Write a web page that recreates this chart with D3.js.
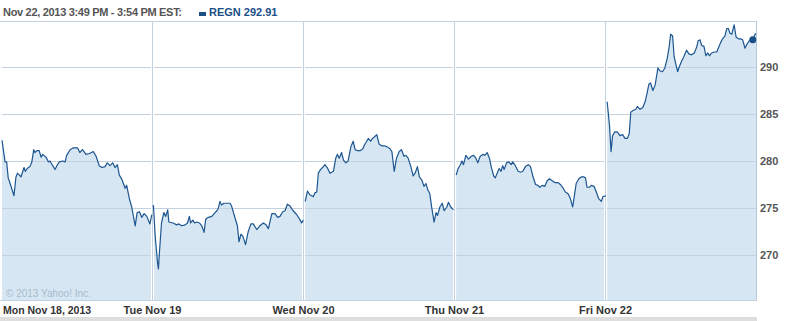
<!DOCTYPE html>
<html lang="en">
<head>
<meta charset="UTF-8"/>
<title>REGN intraday</title>
<script src="https://d3js.org/d3.v7.min.js"></script>
<style>
  body { margin: 0; background: #fff; }
  text { font-family: "Liberation Sans", Arial, sans-serif; }
</style>
</head>
<body>
<script>

var w = 794;
var h = 321;

// header / labels
var headerLabel = "Nov 22, 2013 3:49 PM - 3:54 PM EST:";
var seriesName = "REGN";
var lastPrice = 292.91;
var lastMinute = 379;   // 3:49 PM on Fri (minutes after 9:30)

var dayLabels = ["Mon Nov 18, 2013", "Tue Nov 19", "Wed Nov 20", "Thu Nov 21", "Fri Nov 22"];
var yTicks = [270, 275, 280, 285, 290];

// minutes after 9:30 open, and price, for each session
var monMin = [0, 8, 12, 16, 21, 31, 36, 40, 45, 49, 57, 60, 65, 72, 77, 82, 85, 90, 96, 101,
              105, 114, 120, 124, 128, 137, 143, 148, 157, 163, 167, 176, 184, 195, 201, 208, 217, 226, 236, 243,
              251, 258, 266, 272, 279, 286, 292, 298, 303, 309, 318, 322, 329, 335, 344, 349, 355, 361, 367, 374,
              382, 387];
var monPx  = [282.2, 279.9, 279.9, 278.2, 277.6, 276.3, 278.3, 278.7, 278.5, 278.3, 279.3, 278.9, 279.2, 279.4, 279.9, 281.2, 280.9, 281.1, 281.1, 280.4,
              280.7, 280.4, 279.9, 280.0, 279.7, 279.1, 279.6, 279.9, 280.0, 279.9, 280.6, 281.2, 281.4, 281.4, 280.9, 281.2, 280.7, 280.8, 281.0, 280.5,
              279.5, 279.3, 279.4, 279.8, 279.5, 279.8, 279.3, 279.6, 278.5, 278.1, 277.1, 277.4, 276.0, 275.1, 273.1, 274.5, 274.6, 274.0, 274.4, 274.1,
              273.3, 274.3];

var tueMin = [1, 6, 12, 14, 17, 22, 28, 33, 38, 41, 52, 61, 67, 74, 83, 89, 94, 97, 103, 107,
              113, 120, 126, 132, 136, 143, 152, 158, 165, 169, 173, 177, 183, 192, 199, 203, 212, 218, 222, 227,
              232, 239, 246, 253, 259, 268, 276, 285, 292, 298, 307, 315, 322, 328, 335, 341, 347, 354, 362, 371,
              380, 384, 388];
var tuePx  = [275.3, 271.8, 269.1, 268.5, 270.5, 273.4, 274.5, 274.1, 274.8, 273.5, 273.4, 273.2, 273.3, 273.1, 273.2, 273.4, 274.1, 273.4, 273.7, 273.4,
              273.5, 273.4, 273.1, 272.4, 273.8, 274.0, 274.1, 274.4, 274.7, 275.0, 275.7, 275.3, 275.5, 275.5, 275.5, 275.2, 273.9, 273.1, 271.4, 272.2,
              272.0, 271.1, 272.5, 273.3, 273.3, 272.7, 273.1, 273.4, 273.2, 272.8, 274.4, 274.4, 274.0, 274.1, 274.6, 274.7, 275.4, 275.2, 274.7, 274.3,
              273.7, 273.4, 273.7];

var wedMin = [3, 9, 15, 24, 28, 33, 37, 43, 48, 54, 60, 67, 76, 82, 86, 91, 97, 102, 108, 114,
              121, 127, 132, 138, 145, 152, 156, 162, 166, 172, 177, 183, 188, 194, 201, 209, 215, 222, 227, 233,
              239, 246, 252, 258, 263, 269, 276, 282, 287, 293, 298, 304, 310, 315, 320, 325, 330, 336, 341, 345,
              351, 357, 362, 369, 373, 379, 386];
var wedPx  = [275.7, 276.8, 276.4, 276.2, 276.6, 276.7, 278.7, 279.1, 279.3, 279.6, 279.3, 278.7, 278.9, 280.3, 280.7, 280.3, 280.9, 280.1, 279.8, 280.0,
              281.5, 282.1, 281.2, 281.1, 281.1, 281.3, 281.7, 282.1, 282.4, 282.1, 282.4, 282.6, 282.8, 281.8, 281.6, 281.6, 281.5, 281.3, 281.0, 278.9,
              280.3, 281.0, 281.2, 280.5, 280.6, 280.3, 279.4, 278.4, 278.7, 279.4, 278.3, 278.0, 277.3, 277.6, 276.9, 276.5, 275.0, 273.5, 274.5, 274.2,
              275.1, 275.5, 274.7, 275.1, 275.6, 275.1, 274.8];

var thuMin = [3, 8, 14, 18, 22, 28, 35, 42, 48, 54, 59, 65, 72, 77, 83, 89, 94, 100, 104, 110,
              114, 119, 123, 127, 133, 139, 145, 149, 156, 163, 169, 175, 182, 189, 195, 201, 208, 214, 219, 225,
              232, 238, 244, 251, 258, 266, 272, 278, 285, 292, 298, 304, 309, 313, 320, 326, 333, 337, 341, 347,
              352, 359, 364, 371, 378, 382, 390];
var thuPx  = [278.5, 279.2, 279.6, 280.0, 279.6, 280.6, 280.2, 280.5, 280.6, 280.3, 279.8, 280.5, 280.7, 280.6, 280.9, 280.3, 279.3, 278.4, 278.2, 278.8,
              279.2, 278.9, 279.5, 279.1, 279.8, 279.9, 279.6, 279.9, 279.5, 278.9, 278.8, 278.9, 279.4, 279.6, 279.4, 278.4, 277.5, 277.4, 277.2, 277.4,
              277.3, 277.9, 278.1, 277.9, 277.7, 277.7, 277.5, 277.2, 276.7, 276.5, 276.0, 275.1, 276.5, 277.6, 278.1, 278.3, 278.3, 278.2, 277.2, 277.2,
              277.4, 277.3, 276.8, 276.0, 275.7, 276.2, 276.3];

var friMin = [3, 9, 13, 17, 23, 29, 36, 43, 49, 55, 60, 64, 71, 77, 81, 88, 95, 101, 105, 111,
              115, 121, 127, 134, 139, 146, 152, 158, 163, 167, 172, 176, 181, 185, 189, 196, 201, 208, 214, 221,
              228, 234, 238, 243, 247, 253, 258, 263, 267, 273, 279, 286, 291, 296, 301, 307, 312, 316, 320, 325,
              331, 336, 342, 348, 353, 359, 365, 370, 379, 385, 390];
var friPx  = [286.3, 283.8, 281.0, 282.7, 283.1, 283.1, 282.7, 282.8, 282.4, 282.4, 282.9, 285.2, 285.4, 285.5, 285.8, 285.5, 285.7, 286.3, 287.0, 288.2,
              288.3, 287.5, 288.1, 289.9, 289.6, 289.5, 289.9, 290.9, 292.1, 293.5, 293.3, 291.1, 290.2, 289.5, 290.0, 290.7, 291.1, 291.8, 291.4, 291.3,
              291.5, 292.1, 292.8, 292.9, 292.3, 292.2, 291.2, 291.5, 291.2, 291.5, 291.6, 291.6, 292.1, 292.6, 293.0, 293.3, 294.1, 294.1, 293.6, 293.5,
              294.5, 293.2, 293.0, 293.0, 292.9, 292.0, 292.5, 292.8, 292.91, 293.5, 293.6];

var sessionMinutes = 390;
var dayMinutes = [monMin, tueMin, wedMin, thuMin, friMin];
var dayPrices  = [monPx, tuePx, wedPx, thuPx, friPx];

// plot box
var plotLeft = 2, plotRight = 757, plotTop = 21, plotBottom = 300;

var xScale = d3.scaleLinear()
    .domain([0, sessionMinutes * dayLabels.length])
    .range([plotLeft, plotRight]);

var yScale = d3.scaleLinear()
    .domain([265.2, 294.9])
    .range([plotBottom, plotTop]);

var svg = d3.select("body")
    .append("svg")
    .attr("width", w)
    .attr("height", h);

// grey band at the bottom
svg.append("rect")
    .attr("x", 0).attr("y", 317)
    .attr("width", 757).attr("height", 4)
    .style("fill", "#dedede");

// one area + line per trading day
var series = dayMinutes.map(function(mins, d) {
    return mins.map(function(m, i) {
        return { t: d * sessionMinutes + m, p: dayPrices[d][i] };
    });
});

var area = d3.area()
    .x(function(d) { return xScale(d.t); })
    .y0(plotBottom)
    .y1(function(d) { return yScale(d.p); });

var line = d3.line()
    .x(function(d) { return xScale(d.t); })
    .y(function(d) { return yScale(d.p); });

svg.selectAll(".area")
    .data(series)
    .enter()
    .append("path")
    .attr("class", "area")
    .attr("d", area)
    .style("fill", "#d6e6f2");

// horizontal grid
svg.selectAll(".hgrid")
    .data(yTicks)
    .enter()
    .append("line")
    .attr("class", "hgrid")
    .attr("x1", plotLeft).attr("x2", plotRight - 1)
    .attr("y1", function(d) { return Math.round(yScale(d)) + 0.5; })
    .attr("y2", function(d) { return Math.round(yScale(d)) + 0.5; })
    .style("stroke", "#c3d2de")
    .style("stroke-width", 1);

// day separators
var seps = d3.range(1, dayLabels.length);
svg.selectAll(".sep")
    .data(seps)
    .enter()
    .append("line")
    .attr("x1", function(d) { return Math.round(xScale(d * sessionMinutes)) - 0.5; })
    .attr("x2", function(d) { return Math.round(xScale(d * sessionMinutes)) - 0.5; })
    .attr("y1", plotTop).attr("y2", plotBottom)
    .style("stroke", "#fff")
    .style("stroke-width", 3);
svg.selectAll(".sepline")
    .data(seps)
    .enter()
    .append("line")
    .attr("x1", function(d) { return Math.round(xScale(d * sessionMinutes)) - 0.5; })
    .attr("x2", function(d) { return Math.round(xScale(d * sessionMinutes)) - 0.5; })
    .attr("y1", plotTop).attr("y2", plotBottom)
    .style("stroke", "#c3d2de")
    .style("stroke-width", 1);

svg.selectAll(".line")
    .data(series)
    .enter()
    .append("path")
    .attr("class", "line")
    .attr("d", line)
    .style("fill", "none")
    .style("stroke", "#1d5691")
    .style("stroke-width", 1.2)
    .style("stroke-linejoin", "round");

// plot border (top + right + bottom)
svg.append("line")
    .attr("x1", 0).attr("x2", plotRight).attr("y1", plotTop + 0.5).attr("y2", plotTop + 0.5)
    .style("stroke", "#c3d2de");
svg.append("line")
    .attr("x1", plotRight - 0.5).attr("x2", plotRight - 0.5).attr("y1", plotTop).attr("y2", plotBottom + 1)
    .style("stroke", "#b8c9d8");
svg.append("line")
    .attr("x1", 0).attr("x2", plotRight).attr("y1", plotBottom + 0.5).attr("y2", plotBottom + 0.5)
    .style("stroke", "#c3d2de");

// current price marker
svg.append("circle")
    .attr("cx", xScale(4 * sessionMinutes + lastMinute))
    .attr("cy", yScale(lastPrice))
    .attr("r", 3.5)
    .style("fill", "#1a4f88");

// y labels on the right
svg.selectAll(".ylab")
    .data(yTicks)
    .enter()
    .append("text")
    .attr("x", 760)
    .attr("y", function(d) { return yScale(d) + 4; })
    .style("font-size", "11px")
    .style("font-weight", "bold")
    .style("fill", "#555")
    .text(function(d) { return d; });

// x labels
svg.selectAll(".xlab")
    .data(dayLabels)
    .enter()
    .append("text")
    .attr("x", function(d, i) { return i === 0 ? 3 : xScale(i * sessionMinutes) - 0.5; })
    .attr("y", 314)
    .attr("text-anchor", function(d, i) { return i === 0 ? "start" : "middle"; })
    .style("font-size", function(d, i) { return i === 0 ? "10.5px" : "11px"; })
    .style("font-weight", "bold")
    .style("fill", "#333")
    .text(function(d) { return d; });

// copyright
svg.append("text")
    .attr("x", 6).attr("y", 297)
    .style("font-size", "10px")
    .style("fill", "#a7bccd")
    .text("\u00a9 2013 Yahoo! Inc.");

// header
svg.append("text")
    .attr("x", 3).attr("y", 16)
    .attr("textLength", 179)
    .attr("lengthAdjust", "spacing")
    .style("font-size", "11px")
    .style("font-weight", "bold")
    .style("fill", "#555")
    .text(headerLabel);

svg.append("rect")
    .attr("x", 199).attr("y", 12).attr("width", 7).attr("height", 4)
    .style("fill", "#1a4f88");

svg.append("text")
    .attr("x", 209).attr("y", 16)
    .style("font-size", "11px")
    .style("font-weight", "bold")
    .style("fill", "#1a4f88")
    .text(seriesName + " " + lastPrice);

</script>
</body>
</html>
